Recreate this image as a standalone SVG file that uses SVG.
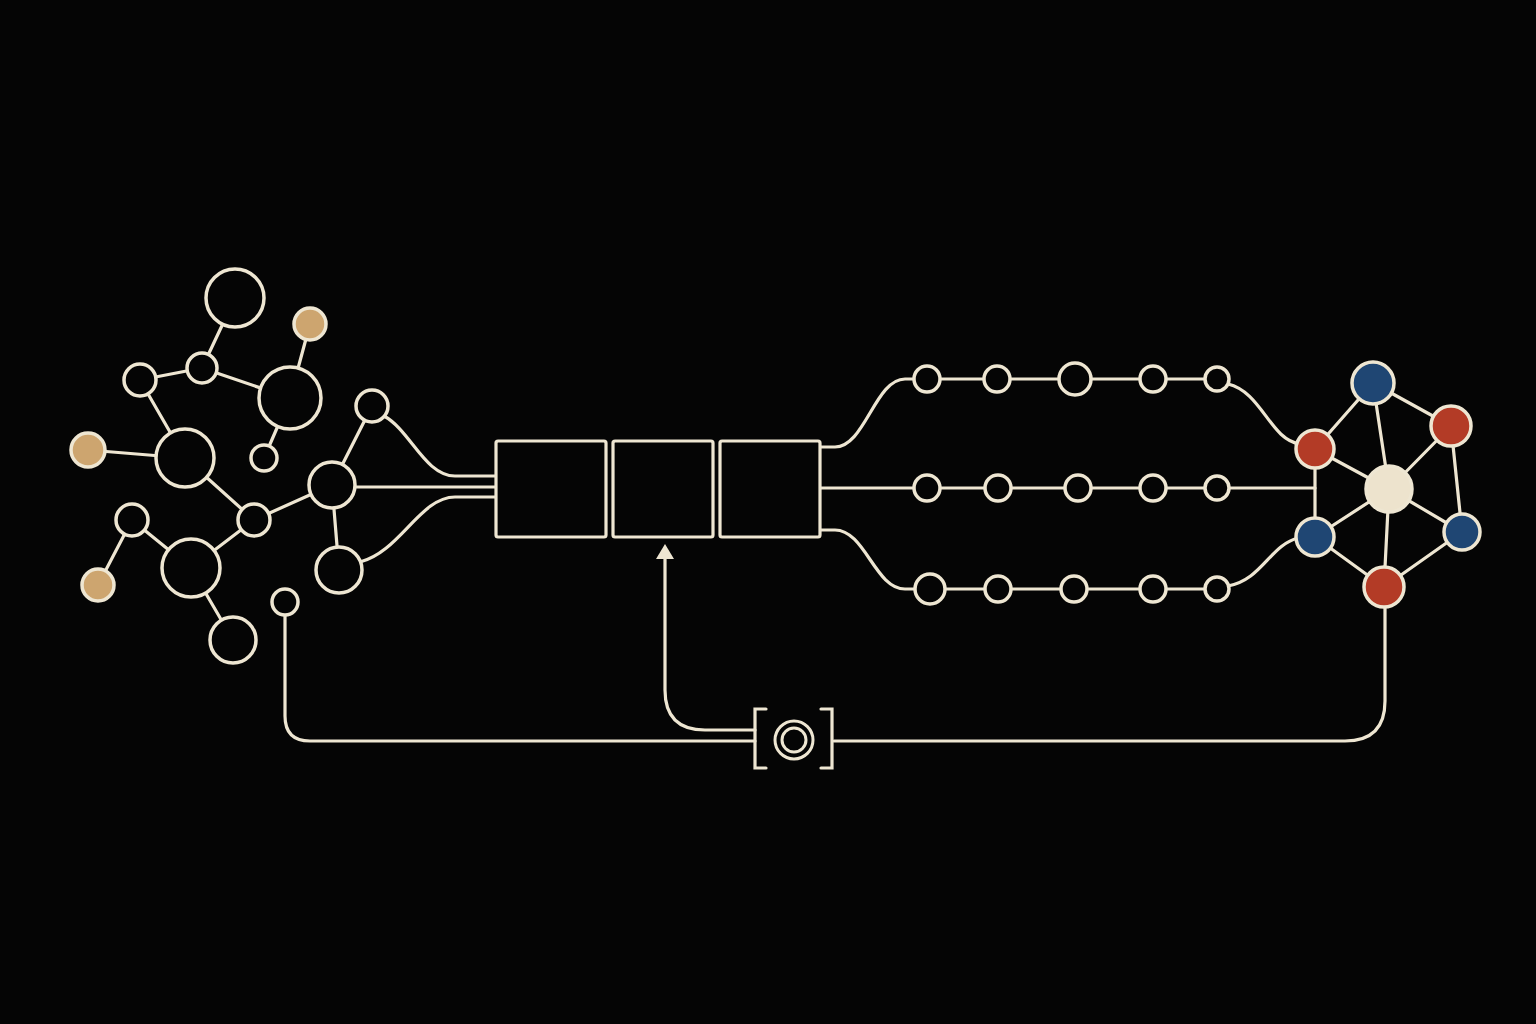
<svg xmlns="http://www.w3.org/2000/svg" width="1536" height="1024" viewBox="0 0 1536 1024">
<style>
.e{stroke:#eee6d2;stroke-width:3.2;fill:none;stroke-linecap:round}
.n{stroke:#eee6d2;stroke-width:3.5;fill:#050505}
.tan{fill:#cda56f}
.red{fill:#b33b26}
.blue{fill:#1f4673}
.hub{fill:#ede3cd}
.box{stroke:#eee6d2;stroke-width:3.2;fill:#050505}
</style>
<defs>
<marker id="ah" markerWidth="15" markerHeight="18" refX="1" refY="9" orient="auto" markerUnits="userSpaceOnUse" viewBox="0 0 15 18"><path d="M0,0 L15,9 L0,18 Z" fill="#eee6d2"/></marker>
</defs>
<rect width="1536" height="1024" fill="#050505"/>
<g id="connectors">
<line class="e" x1="235" y1="298" x2="202" y2="368"/>
<line class="e" x1="310" y1="324" x2="290" y2="398"/>
<line class="e" x1="140" y1="380" x2="202" y2="368"/>
<line class="e" x1="202" y1="368" x2="290" y2="398"/>
<line class="e" x1="140" y1="380" x2="185" y2="458"/>
<line class="e" x1="88" y1="450" x2="185" y2="458"/>
<line class="e" x1="290" y1="398" x2="264" y2="458"/>
<line class="e" x1="185" y1="458" x2="254" y2="520"/>
<line class="e" x1="254" y1="520" x2="332" y2="485"/>
<line class="e" x1="254" y1="520" x2="191" y2="568"/>
<line class="e" x1="132" y1="520" x2="191" y2="568"/>
<line class="e" x1="132" y1="520" x2="98" y2="585"/>
<line class="e" x1="191" y1="568" x2="233" y2="640"/>
<line class="e" x1="332" y1="485" x2="372" y2="406"/>
<line class="e" x1="332" y1="485" x2="339" y2="570"/>
<path class="e" d="M384,416 C410,430 425,476 455,476 L496,476"/>
<path class="e" d="M332,487 L496,487"/>
<path class="e" d="M360,562 C400,552 420,497 455,497 L496,497"/>
<path class="e" d="M820,447 L835,447 C865,447 875,379 905,379 L1217,379"/>
<path class="e" d="M820,488 L1315,488"/>
<path class="e" d="M820,530 L835,530 C865,530 875,589 905,589 L1217,589"/>
<path class="e" d="M1228,384 C1262,392 1270,440 1300,444"/>
<path class="e" d="M1228,586 C1262,580 1270,545 1298,538"/>
<line class="e" x1="1315" y1="449" x2="1315" y2="537"/>
<line class="e" x1="1373" y1="383" x2="1315" y2="449"/>
<line class="e" x1="1373" y1="383" x2="1451" y2="426"/>
<line class="e" x1="1373" y1="383" x2="1389" y2="489"/>
<line class="e" x1="1451" y1="426" x2="1389" y2="489"/>
<line class="e" x1="1451" y1="426" x2="1462" y2="532"/>
<line class="e" x1="1315" y1="449" x2="1389" y2="489"/>
<line class="e" x1="1315" y1="537" x2="1389" y2="489"/>
<line class="e" x1="1315" y1="537" x2="1384" y2="587"/>
<line class="e" x1="1389" y1="489" x2="1462" y2="532"/>
<line class="e" x1="1389" y1="489" x2="1384" y2="587"/>
<line class="e" x1="1462" y1="532" x2="1384" y2="587"/>
<path class="e" d="M285,615 L285,716 Q285,741 310,741 L755,741"/>
<path class="e" d="M834,741 L1345,741 Q1385,741 1385,701 L1385,606"/>
<path class="e" d="M755,730 L705,730 Q665,730 665,690 L665,558" marker-end="url(#ah)"/>
</g>
<g id="left-cluster">
<circle class="n" cx="235" cy="298" r="29"/>
<circle class="n tan" cx="310" cy="324" r="16"/>
<circle class="n" cx="202" cy="368" r="15"/>
<circle class="n" cx="140" cy="380" r="16"/>
<circle class="n" cx="290" cy="398" r="31"/>
<circle class="n tan" cx="88" cy="450" r="17"/>
<circle class="n" cx="185" cy="458" r="29"/>
<circle class="n" cx="264" cy="458" r="13"/>
<circle class="n" cx="372" cy="406" r="16"/>
<circle class="n" cx="332" cy="485" r="23"/>
<circle class="n" cx="254" cy="520" r="16"/>
<circle class="n" cx="132" cy="520" r="16"/>
<circle class="n" cx="191" cy="568" r="29"/>
<circle class="n" cx="339" cy="570" r="23"/>
<circle class="n tan" cx="98" cy="585" r="16"/>
<circle class="n" cx="285" cy="602" r="13"/>
<circle class="n" cx="233" cy="640" r="23"/>
</g>
<g id="box1"><rect class="box" x="496" y="441" width="110" height="96" rx="2"/></g>
<g id="box2"><rect class="box" x="613" y="441" width="100" height="96" rx="2"/></g>
<g id="box3"><rect class="box" x="720" y="441" width="100" height="96" rx="2"/></g>
<g id="chains">
<circle class="n" cx="927" cy="379" r="13"/>
<circle class="n" cx="997" cy="379" r="13"/>
<circle class="n" cx="1075" cy="379" r="16"/>
<circle class="n" cx="1153" cy="379" r="13"/>
<circle class="n" cx="1217" cy="379" r="12"/>
<circle class="n" cx="927" cy="488" r="13"/>
<circle class="n" cx="998" cy="488" r="13"/>
<circle class="n" cx="1078" cy="488" r="13"/>
<circle class="n" cx="1153" cy="488" r="13"/>
<circle class="n" cx="1217" cy="488" r="12"/>
<circle class="n" cx="930" cy="589" r="15"/>
<circle class="n" cx="998" cy="589" r="13"/>
<circle class="n" cx="1074" cy="589" r="13"/>
<circle class="n" cx="1153" cy="589" r="13"/>
<circle class="n" cx="1217" cy="589" r="12"/>
</g>
<g id="right-cluster">
<circle class="n blue" cx="1373" cy="383" r="21"/>
<circle class="n red" cx="1451" cy="426" r="20"/>
<circle class="n red" cx="1315" cy="449" r="19"/>
<circle class="n hub" cx="1389" cy="489" r="23"/>
<circle class="n blue" cx="1315" cy="537" r="19"/>
<circle class="n blue" cx="1462" cy="532" r="18"/>
<circle class="n red" cx="1384" cy="587" r="20"/>
</g>
<g id="controller">
<path class="e" d="M766,709 L755,709 L755,768 L766,768"/>
<path class="e" d="M821,709 L832,709 L832,768 L821,768"/>
<circle cx="794" cy="740" r="19" fill="none" stroke="#eee6d2" stroke-width="3"/>
<circle cx="794" cy="740" r="12" fill="none" stroke="#eee6d2" stroke-width="3"/>
</g>
</svg>
